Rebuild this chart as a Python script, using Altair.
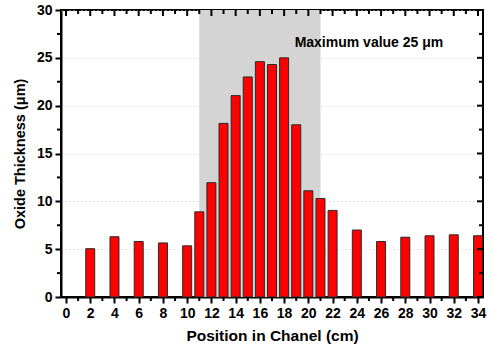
import altair as alt
import pandas as pd

positions = [2, 4, 6, 8, 10, 11, 12, 13, 14, 15, 16, 17, 18, 19, 20, 21, 22, 24, 26, 28, 30, 32, 34]
thickness = [5.05, 6.3, 5.8, 5.65, 5.35, 8.9, 11.95, 18.15, 21.05, 23.0, 24.6, 24.3, 25.0,
             18.0, 11.1, 10.3, 9.05, 7.0, 5.8, 6.25, 6.4, 6.5, 6.4]
region_start = [11]
region_end = [21]
annotation = ["Maximum value 25 μm"]
x_major = list(range(0, 35, 2))
x_minor = list(range(1, 35, 2))
y_major = [0, 5, 10, 15, 20, 25, 30]
y_minor = [2.5, 7.5, 12.5, 17.5, 22.5, 27.5]

FONT = "Liberation Sans"
W, H = 422, 287

bars_df = pd.DataFrame({"pos": positions, "val": thickness})
region_df = pd.DataFrame({"start": region_start, "end": region_end})
text_df = pd.DataFrame({"label": annotation, "x": [25.0], "y": [26.5]})
xmaj_df = pd.DataFrame({"t": x_major})
xmin_df = pd.DataFrame({"t": x_minor})
ymaj_df = pd.DataFrame({"t": y_major})
ymin_df = pd.DataFrame({"t": y_minor})

xscale = alt.Scale(domain=[0, 34], nice=False, zero=False)
yscale = alt.Scale(domain=[0, 30], nice=False)

region = alt.Chart(region_df).mark_rect(color="#d4d4d4").encode(
    x=alt.X("start:Q", scale=xscale,
            axis=alt.Axis(orient="bottom", values=x_major, tickSize=6, tickWidth=2,
                          tickColor="black", labelPadding=3, grid=False, labelOverlap=False,
                          labelFlush=False,
                          domain=True, domainColor="black", domainWidth=2,
                          labelFont=FONT, labelFontWeight="bold", labelFontSize=14,
                          labelColor="black",
                          title="Position in Chanel (cm)", titlePadding=8,
                          titleFont=FONT, titleFontWeight="bold", titleFontSize=15.5,
                          titleColor="black")),
    x2="end:Q",
    y=alt.Y("y0:Q", scale=yscale,
            axis=alt.Axis(orient="left", values=y_major, tickSize=6, tickWidth=2,
                          tickColor="black", labelPadding=3, labelOverlap=False,
                          labelFlush=False,
                          domain=True, domainColor="black", domainWidth=2,
                          grid=True, gridColor="#c8c8c8", gridDash=[1, 3], gridWidth=1,
                          labelFont=FONT, labelFontWeight="bold", labelFontSize=14,
                          labelColor="black",
                          title="Oxide Thickness (μm)", titlePadding=9,
                          titleFont=FONT, titleFontWeight="bold", titleFontSize=14.5,
                          titleColor="black")),
    y2="y1:Q",
).transform_calculate(y0="0", y1="30")

bars = alt.Chart(bars_df).mark_bar(color="#ff0000", stroke="#2a2a2a", strokeWidth=1, size=9).encode(
    x=alt.X("pos:Q", scale=xscale, axis=None),
    y=alt.Y("val:Q", scale=yscale, axis=None),
)

text = alt.Chart(text_df).mark_text(font=FONT, fontWeight="bold", fontSize=14, color="black").encode(
    x=alt.X("x:Q", scale=xscale, axis=None),
    y=alt.Y("y:Q", scale=yscale, axis=None),
    text="label:N",
)

tick_style = dict(color="black", strokeWidth=2)

top_major = alt.Chart(xmaj_df).mark_rule(**tick_style).encode(
    x=alt.X("t:Q", scale=xscale, axis=None), y=alt.value(0), y2=alt.value(6))
top_minor = alt.Chart(xmin_df).mark_rule(**tick_style).encode(
    x=alt.X("t:Q", scale=xscale, axis=None), y=alt.value(0), y2=alt.value(4))
bottom_minor = alt.Chart(xmin_df).mark_rule(**tick_style).encode(
    x=alt.X("t:Q", scale=xscale, axis=None), y=alt.value(H), y2=alt.value(H + 4))
right_major = alt.Chart(ymaj_df).mark_rule(**tick_style).encode(
    y=alt.Y("t:Q", scale=yscale, axis=None), x=alt.value(W - 6), x2=alt.value(W))
right_minor = alt.Chart(ymin_df).mark_rule(**tick_style).encode(
    y=alt.Y("t:Q", scale=yscale, axis=None), x=alt.value(W - 4), x2=alt.value(W))
left_minor = alt.Chart(ymin_df).mark_rule(**tick_style).encode(
    y=alt.Y("t:Q", scale=yscale, axis=None), x=alt.value(-4), x2=alt.value(0))

chart = alt.layer(
    region, bars, text, top_major, top_minor, bottom_minor, right_major, right_minor, left_minor
).resolve_axis(
    x="independent", y="independent"
).properties(
    width=W, height=H,
    autosize=alt.AutoSizeParams(type="none"),
    padding={"left": 61, "top": 10, "right": 9, "bottom": 50},
    background="white",
).configure_view(stroke="black", strokeWidth=2)

chart.save("out.html", embed_options={"renderer": "svg", "actions": False})
